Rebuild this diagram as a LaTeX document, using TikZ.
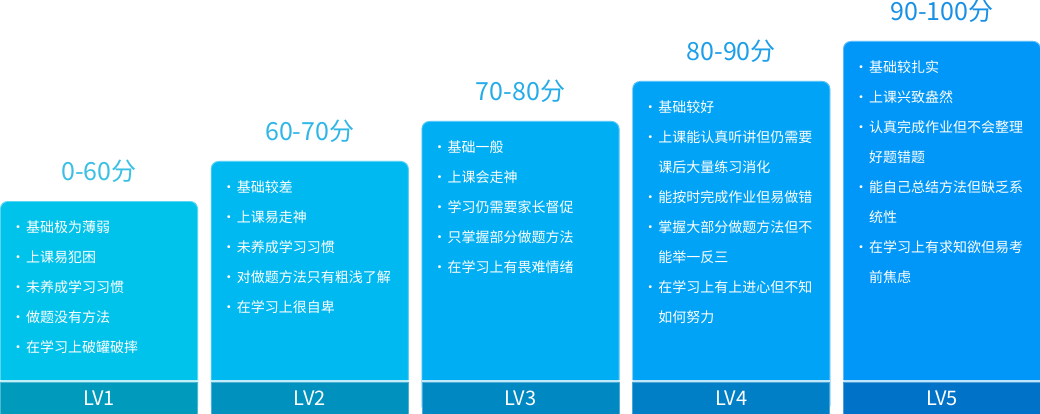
\documentclass[tikz,border=0pt]{standalone}
\usepackage{fontspec}
\setmainfont{Noto Sans CJK SC}
%%%% mau cot
\definecolor{hop1}{HTML}{00C3EB}\definecolor{chan1}{HTML}{009ABC}\definecolor{chu1}{HTML}{3BBFE5}
\definecolor{hop2}{HTML}{00B9F1}\definecolor{chan2}{HTML}{0091BF}\definecolor{chu2}{HTML}{30B6E7}
\definecolor{hop3}{HTML}{00AFF3}\definecolor{chan3}{HTML}{0088C3}\definecolor{chu3}{HTML}{25ACE8}
\definecolor{hop4}{HTML}{00A3F6}\definecolor{chan4}{HTML}{007FC6}\definecolor{chu4}{HTML}{1C9FE8}
\definecolor{hop5}{HTML}{0097F8}\definecolor{chan5}{HTML}{0073C9}\definecolor{chu5}{HTML}{1890E6}
%%%% dong chu trong hop
\newcommand\hangchu[2]{%
	\pgfmathsetmacro\xh{210.75*(#1-1)+26}
	\pgfmathsetmacro\yh{201-40*(#1-1)+26}
	\foreach[count=\r] \k/\t in {#2}{
		\node[hang] (h#1-\r) at (\xh,\yh+30*\r-30) {\ifnum\k=1 \llap{·\hspace{1pt}}\fi\t};
	}}
\begin{document}
\begin{tikzpicture}[x=1pt,y=-1pt,line join=round]
	\tikzset{hang/.style={anchor=west,inner sep=0pt,text=white,font=\fontsize{14}{16}\selectfont},
		diem/.style={inner sep=0pt,font=\fontsize{25}{28}\selectfont},
		muc/.style={inner sep=0pt,text=white,font=\fontsize{20}{22}\selectfont}}
	\useasboundingbox (0,0) rectangle (1040,414);
	%%%% hop, chan va nhan
	\foreach \i/\d in {1/0-60,2/60-70,3/70-80,4/80-90,5/90-100}{
		\pgfmathsetmacro\xa{210.75*(\i-1)}
		\pgfmathsetmacro\xb{\xa+198}
		\pgfmathsetmacro\xc{\xa+99}
		\pgfmathsetmacro\yt{201-40*(\i-1)}
		\fill[hop\i,rounded corners=8pt] (\xa,\yt) rectangle (\xb,414);
		\draw[white,draw opacity=0.35,line width=0.8pt,rounded corners=8pt] (\xa+0.4,414) -- (\xa+0.4,\yt+0.4) -- (\xb-0.4,\yt+0.4) -- (\xb-0.4,414);
		\fill[chan\i] (\xa,382) rectangle (\xb,414);
		\draw[white,draw opacity=0.3,line width=0.8pt] (\xa+0.4,414) -- (\xa+0.4,382.4) -- (\xb-0.4,382.4) -- (\xb-0.4,414);
		\draw[white,draw opacity=0.75,line width=1.2pt] (\xa,381) -- (\xb,381);
		\node[diem,text=chu\i] (diem\i) at (\xc,\yt-30) {\d 分};
		\node[muc] (lv\i) at (\xc,398) {LV\i};
	}
	%%%% chu
	\hangchu{1}{1/基础极为薄弱,1/上课易犯困,1/未养成学习习惯,1/做题没有方法,1/在学习上破罐破摔}
	\hangchu{2}{1/基础较差,1/上课易走神,1/未养成学习习惯,1/对做题方法只有粗浅了解,1/在学习上很自卑}
	\hangchu{3}{1/基础一般,1/上课会走神,1/学习仍需要家长督促,1/只掌握部分做题方法,1/在学习上有畏难情绪}
	\hangchu{4}{1/基础较好,1/上课能认真听讲但仍需要,0/课后大量练习消化,1/能按时完成作业但易做错,1/掌握大部分做题方法但不,0/能举一反三,1/在学习上有上进心但不知,0/如何努力}
	\hangchu{5}{1/基础较扎实,1/上课兴致盎然,1/认真完成作业但不会整理,0/好题错题,1/能自己总结方法但缺乏系,0/统性,1/在学习上有求知欲但易考,0/前焦虑}
\end{tikzpicture}
\end{document}
